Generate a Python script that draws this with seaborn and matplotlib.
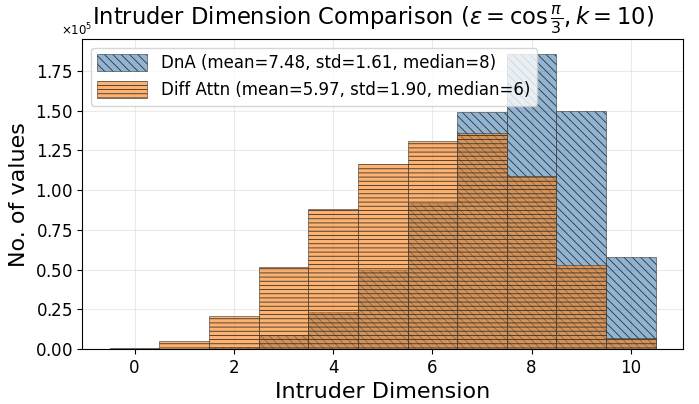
import matplotlib
matplotlib.use("Agg")
import matplotlib.pyplot as plt
import seaborn as sns
import numpy as np
import pandas as pd

dims = [0, 1, 2, 3, 4, 5, 6, 7, 8, 9, 10]
dna_counts = [0, 0, 1000, 8700, 23200, 50000, 92000, 149000, 185600, 150000, 58000]
diff_counts = [400, 5200, 20500, 51700, 88000, 116400, 130700, 136000, 109000, 53000, 7000]
labels = ["DnA (mean=7.48, std=1.61, median=8)",
          "Diff Attn (mean=5.97, std=1.90, median=6)"]

df_dna = pd.DataFrame({"dim": dims, "count": dna_counts})
df_diff = pd.DataFrame({"dim": dims, "count": diff_counts})

plt.rcParams['hatch.linewidth'] = 0.6
fig, ax = plt.subplots(figsize=(6.99, 4.04), dpi=100)
ax.set_axisbelow(True)
ax.grid(True, color="#dddddd", alpha=0.6, linewidth=0.8)

sns.histplot(data=df_dna, x="dim", weights="count", discrete=True, ax=ax,
             color="steelblue", alpha=0.6, hatch="\\\\\\\\", edgecolor="0.2",
             linewidth=0.4, label=labels[0])
sns.histplot(data=df_diff, x="dim", weights="count", discrete=True, ax=ax,
             color="tab:orange", alpha=0.6, hatch="----", edgecolor="0.2",
             linewidth=0.4, label=labels[1])

ax.ticklabel_format(axis="y", style="sci", scilimits=(0, 0), useMathText=True)
ot = ax.yaxis.get_offset_text()
ot.set_fontsize(8.5)
ot.set_x(-0.035)
ax.set_xticks([0, 2, 4, 6, 8, 10])
ax.tick_params(labelsize=12)
ax.set_xlabel("Intruder Dimension", fontsize=16)
ax.set_ylabel("No. of values", fontsize=16)
ax.set_title(r"Intruder Dimension Comparison ($\epsilon = \cos\frac{\pi}{3}, k=10$)",
             fontsize=16.3, x=0.484, y=1.0, pad=10)
ax.legend(fontsize=12, loc="upper left", handlelength=3, handleheight=1.2)
for s in ax.spines.values():
    s.set_color("black")
plt.subplots_adjust(left=0.118, right=0.977, top=0.903, bottom=0.136)
fig.savefig("out.png", dpi=100)
